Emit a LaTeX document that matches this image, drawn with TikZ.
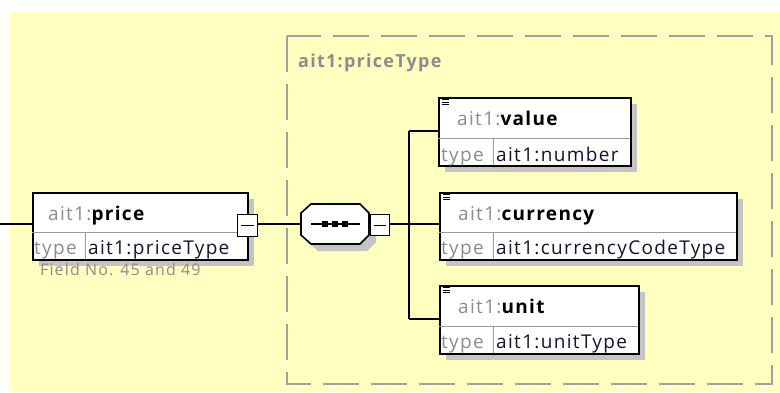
\documentclass[tikz,border=0pt]{standalone}
\usepackage{fontspec}
\setmainfont{Open Sans}
\newfontfamily\uifont[LetterSpace=7]{Open Sans}
\definecolor{bg}{HTML}{FFFFC0}
\definecolor{pfx}{HTML}{8C8C8C}
\definecolor{dashc}{HTML}{A0A0A0}
\definecolor{shadowc}{HTML}{C4C4C4}
\definecolor{sepc}{HTML}{9A9A9A}
\definecolor{tval}{HTML}{1A1030}
\tikzset{
  boxshape/.style={draw=black, line width=1.6pt, fill=white},
  shadowshape/.style={fill=shadowc, draw=none},
  sepline/.style={draw=sepc, line width=0.9pt},
  conn/.style={draw=black, line width=1.3pt},
  minusbox/.style={draw=black, line width=1.2pt, fill=white},
  nametext/.style={anchor=base west, inner sep=0pt, font=\uifont\fontsize{19}{19}\selectfont},
  typetext/.style={anchor=base west, inner sep=0pt, text=pfx, font=\uifont\fontsize{19}{19}\selectfont},
  valtext/.style={anchor=base west, inner sep=0pt, text=tval, font=\uifont\fontsize{19}{19}\selectfont},
  notetext/.style={anchor=base west, inner sep=0pt, text=pfx, font=\uifont\fontsize{16}{16}\selectfont},
  grouplabel/.style={anchor=base west, inner sep=0pt, text=pfx, font=\uifont\fontsize{18}{18}\selectfont\bfseries},
  container/.style={draw=dashc, line width=2pt, dash pattern=on 36pt off 12pt},
}
\newcommand{\nm}[1]{\textcolor{pfx}{ait1:}\textbf{#1}}
\begin{document}
\begin{tikzpicture}[x=1pt,y=-1pt]
\useasboundingbox (0,0) rectangle (780,392);
\fill[white] (0,0) rectangle (780,392);
\fill[bg] (10,12) rectangle (780,392);

% container
\draw[container] (287,36) rectangle (772,384);
\node[grouplabel] (grp) at (298,67) {ait1:priceType};

% ---- price element
\fill[shadowshape] (39,199) rectangle (254,266);
\node[boxshape, anchor=north west, inner sep=0pt, minimum width=215pt, minimum height=67pt] (price) at (32,192) {};
\draw[sepline] (32,232) -- (247,232);
\draw[sepline] (85,232) -- (85,259);
\node[nametext] (pricename) at (48,220) {\nm{price}};
\node[typetext] (pricetype) at (34,254) {type};
\node[valtext] (priceval) at (88,254) {ait1:priceType};
\node[minusbox, anchor=north west, inner sep=0pt, minimum width=20pt, minimum height=22pt] (pminus) at (237,214) {};
\draw[line width=1.1pt] ([xshift=4pt]pminus.west) -- ([xshift=-4pt]pminus.east);
\node[notetext] (note) at (40,275) {Field No. 45 and 49};

\coordinate (instub) at (0,224);
\draw[conn] (instub) -- (price.west |- instub);

% ---- sequence compositor
\fill[shadowshape] (318,211) -- (367,211) -- (376,220) -- (376,242) -- (367,251) -- (318,251) -- (308,242) -- (308,220) -- cycle;
\draw[boxshape] (311,204) -- (360,204) -- (369,213) -- (369,235) -- (360,244) -- (311,244) -- (301,235) -- (301,213) -- cycle;
\coordinate (seqw) at (301,224);
\coordinate (seqin) at (311,224);
\coordinate (seqout) at (360,224);
\draw[line width=1.2pt] (seqin) -- (seqout);
\foreach \cx in {325,335,345} \fill (\cx-2.6,221.4) rectangle (\cx+2.6,226.6);
\node[minusbox, anchor=north west, inner sep=0pt, minimum width=19pt, minimum height=21pt] (sminus) at (370,214) {};
\draw[line width=1.1pt] ([xshift=4pt]sminus.west) -- ([xshift=-4pt]sminus.east);

\draw[conn] (pminus.east |- seqw) -- (seqw);
\coordinate (jn) at (409,224);
\draw[conn] (sminus.east |- jn) -- (jn);

% ---- value
\fill[shadowshape] (445,104) rectangle (637,172);
\node[boxshape, anchor=north west, inner sep=0pt, minimum width=192pt, minimum height=68pt] (value) at (438,97) {};
\draw[sepline] (438,138) -- (630,138);
\draw[sepline] (493,138) -- (493,165);
\foreach \yy in {99.8,102.3,104.8} \draw[line width=0.9pt] (441.5,\yy) -- (449,\yy);
\node[nametext] (valuename) at (457,125) {\nm{value}};
\node[typetext] (valuetype) at (441,161) {type};
\node[valtext] (valueval) at (496,161) {ait1:number};

% ---- currency
\fill[shadowshape] (446,199) rectangle (743,266);
\node[boxshape, anchor=north west, inner sep=0pt, minimum width=297pt, minimum height=67pt] (currency) at (439,192) {};
\draw[sepline] (439,232) -- (736,232);
\draw[sepline] (493,232) -- (493,259);
\foreach \yy in {194.8,197.3,199.8} \draw[line width=0.9pt] (442.5,\yy) -- (450,\yy);
\node[nametext] (curname) at (458,220) {\nm{currency}};
\node[typetext] (curtype) at (441,254) {type};
\node[valtext] (curval) at (496,254) {ait1:currencyCodeType};

% ---- unit
\fill[shadowshape] (446,292) rectangle (645,360);
\node[boxshape, anchor=north west, inner sep=0pt, minimum width=199pt, minimum height=68pt] (unit) at (439,285) {};
\draw[sepline] (439,326) -- (638,326);
\draw[sepline] (493,326) -- (493,353);
\foreach \yy in {287.8,290.3,292.8} \draw[line width=0.9pt] (442.5,\yy) -- (450,\yy);
\node[nametext] (unitname) at (458,313) {\nm{unit}};
\node[typetext] (unittype) at (441,348) {type};
\node[valtext] (unitval) at (496,348) {ait1:unitType};

% ---- connectors to children
\coordinate (jtop) at (409,131);
\coordinate (jbot) at (409,319);
\draw[conn] (jtop) -- (jbot);
\draw[conn] (jtop) -- (value.west |- jtop);
\draw[conn] (jn) -- (currency.west |- jn);
\draw[conn] (jbot) -- (unit.west |- jbot);
\end{tikzpicture}
\end{document}
